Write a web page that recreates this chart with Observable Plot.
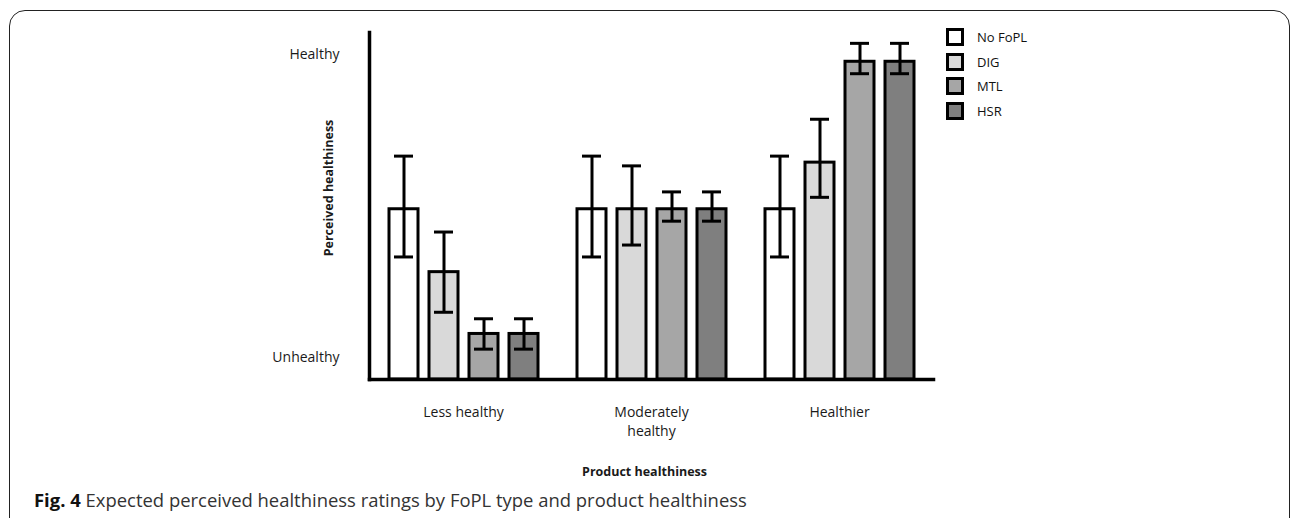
<!DOCTYPE html>
<html><head><meta charset="utf-8">
<script src="https://cdn.jsdelivr.net/npm/d3@7"></script>
<script src="https://cdn.jsdelivr.net/npm/@observablehq/plot@0.6"></script>
<style>
html,body{margin:0;padding:0;background:#fff;overflow:hidden;}
#wrap{position:relative;width:1292px;height:518px;overflow:hidden;font-family:"Open Sans",sans-serif;}
#border{position:absolute;left:9px;top:10px;width:1281px;height:560px;border:1.5px solid #222;border-radius:16px;box-sizing:border-box;}
#chart{position:absolute;left:0;top:0;}
#legend{position:absolute;left:946px;top:25px;}
.item{display:flex;align-items:center;height:24.5px;}
.sw{width:18px;height:18px;border:3px solid #000;box-sizing:border-box;margin-right:13px;}
.lab{font-size:13px;color:#111;}
#caption{position:absolute;left:34px;top:491px;font-size:18.45px;line-height:1;white-space:nowrap;color:#333;}
#caption b{color:#111;}
</style>
</head><body>
<div id="wrap">
  <div id="border"></div>
  <div id="chart"></div>
  <div id="legend"></div>
  <div id="caption"><b>Fig. 4</b> Expected perceived healthiness ratings by FoPL type and product healthiness</div>
</div>
<script>
const groups = ["Less healthy", "Moderately healthy", "Healthier"];
const groupLabels = ["Less healthy", "Moderately\nhealthy", "Healthier"];
const types = ["No FoPL", "DIG", "MTL", "HSR"];
const fills = ["#ffffff", "#d9d9d9", "#a6a6a6", "#7f7f7f"];

// bar heights (arbitrary scale: 1 = Unhealthy, 15 = Healthy)
const noFoPL = [7.85, 7.85, 7.85];
const dig    = [4.95, 7.85, 10.0];
const mtl    = [2.1, 7.85, 14.65];
const hsr    = [2.1, 7.85, 14.65];
// error bar ends
const noFoPLLo = [5.65, 5.65, 5.65], noFoPLHi = [10.3, 10.3, 10.3];
const digLo    = [3.1, 6.2, 8.4],    digHi    = [6.8, 9.85, 12.0];
const mtlLo    = [1.4, 7.3, 14.1],   mtlHi    = [2.8, 8.65, 15.5];
const hsrLo    = [1.4, 7.3, 14.1],   hsrHi    = [2.8, 8.65, 15.5];

const yTicks = [1, 15];
const yTickLabels = ["Unhealthy", "Healthy"];

const series = [
  [noFoPL, noFoPLLo, noFoPLHi],
  [dig, digLo, digHi],
  [mtl, mtlLo, mtlHi],
  [hsr, hsrLo, hsrHi]
];
const data = [];
groups.forEach((g, gi) => types.forEach((t, ti) => {
  data.push({group: g, type: t, value: series[ti][0][gi], lo: series[ti][1][gi], hi: series[ti][2][gi]});
}));

const chart = Plot.plot({
  width: 1292,
  height: 484,
  marginLeft: 369,
  marginRight: 359,
  marginTop: 32,
  marginBottom: 105,
  style: {fontFamily: "Open Sans, sans-serif", color: "#1a1a1a", background: "transparent"},
  fx: {domain: groups, paddingInner: 0, paddingOuter: 0, axis: null},
  x: {domain: types, paddingInner: 0.275, paddingOuter: 0.4875, axis: null},
  y: {domain: [0, 16], axis: null},
  color: {domain: types, range: fills},
  marks: [
    Plot.barY(data, {fx: "group", x: "type", y: "value", fill: "type", stroke: "#000", strokeWidth: 3}),
    Plot.ruleX(data, {fx: "group", x: "type", y1: "lo", y2: "hi", stroke: "#000", strokeWidth: 3}),
    Plot.tickY(data, {fx: "group", x: "type", y: "lo", stroke: "#000", strokeWidth: 3, insetLeft: 5, insetRight: 5}),
    Plot.tickY(data, {fx: "group", x: "type", y: "hi", stroke: "#000", strokeWidth: 3, insetLeft: 5, insetRight: 5}),
    Plot.frame({anchor: "left", facet: "super", stroke: "#000", strokeWidth: 3.5}),
    Plot.frame({anchor: "bottom", facet: "super", stroke: "#000", strokeWidth: 3.5}),
    Plot.axisY({ticks: yTicks, tickFormat: d => yTickLabels[yTicks.indexOf(d)], tickSize: 0, tickPadding: 30, fontSize: 14, label: null}),
    Plot.axisFx({anchor: "bottom", tickSize: 0, tickPadding: 24, fontSize: 14, label: null, lineHeight: 1.35,
      tickFormat: d => groupLabels[groups.indexOf(d)]}),
    Plot.text(["Perceived healthiness"], {facet: "super", frameAnchor: "left", text: d => d, rotate: -90, textAnchor: "middle", dx: -41, dy: -18, fontWeight: "bold", fontSize: 12.5}),
    Plot.text(["Product healthiness"], {facet: "super", frameAnchor: "bottom", text: d => d, textAnchor: "middle", dx: -7, dy: 96, fontWeight: "bold", fontSize: 12.5})
  ]
});
document.getElementById("chart").appendChild(chart);

const legend = document.getElementById("legend");
types.forEach((t, i) => {
  const item = document.createElement("div");
  item.className = "item";
  const sw = document.createElement("div");
  sw.className = "sw";
  sw.style.background = fills[i];
  const lab = document.createElement("span");
  lab.className = "lab";
  lab.textContent = t;
  item.appendChild(sw);
  item.appendChild(lab);
  legend.appendChild(item);
});
</script>
</body></html>
